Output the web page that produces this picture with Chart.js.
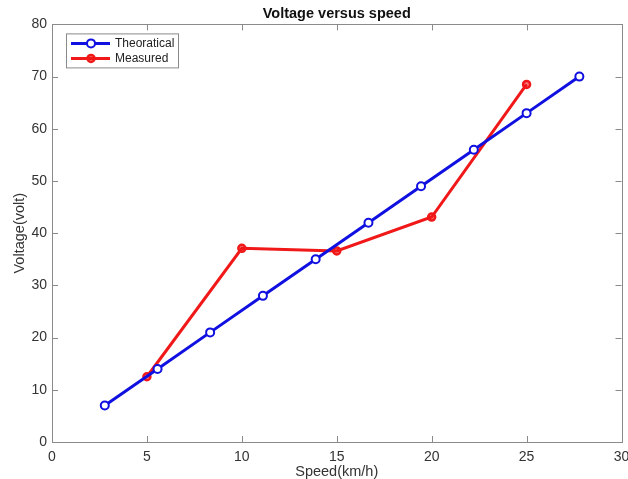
<!DOCTYPE html>
<html>
<head>
<meta charset="utf-8">
<script src="https://cdn.jsdelivr.net/npm/chart.js@4.4.0/dist/chart.umd.min.js"></script>
<style>
  html, body { margin: 0; padding: 0; background: #fff; }
  #wrap { width: 628px; height: 479px; }
</style>
</head>
<body>
<div id="wrap"><canvas id="voltChart"></canvas></div>
<script>
// data
var speedTheory   = [2.78, 5.56, 8.33, 11.11, 13.89, 16.67, 19.44, 22.22, 25.0, 27.78];
var voltTheory    = [7, 14, 21, 28, 35, 42, 49, 56, 63, 70];
var speedMeasured = [5, 10, 15, 20, 25];
var voltMeasured  = [12.5, 37.1, 36.6, 43.1, 68.5];
var xTicks = [0, 5, 10, 15, 20, 25, 30];
var yTicks = [0, 10, 20, 30, 40, 50, 60, 70, 80];

function toPoints(xs, ys) {
    return xs.map(function (x, i) { return {x: x, y: ys[i]}; });
}

var FONT = "'Liberation Sans', Arial, sans-serif";

// matlab style box with inward ticks on all four sides
var axesBox = {
    id: 'axesBox',
    beforeDatasetsDraw: function (chart) {
        var ctx = chart.ctx, a = chart.chartArea;
        var xs = chart.scales.x, ys = chart.scales.y;
        ctx.save();
        ctx.strokeStyle = '#8a8a8a';
        ctx.lineWidth = 1;
        ctx.strokeRect(Math.round(a.left) + 0.5, Math.round(a.top) + 0.5,
                       Math.round(a.right - a.left), Math.round(a.bottom - a.top));
        ctx.beginPath();
        xTicks.forEach(function (v) {
            var px = Math.round(xs.getPixelForValue(v)) + 0.5;
            ctx.moveTo(px, a.bottom); ctx.lineTo(px, a.bottom - 6);
            ctx.moveTo(px, a.top); ctx.lineTo(px, a.top + 6);
        });
        yTicks.forEach(function (v) {
            var py = Math.round(ys.getPixelForValue(v)) + 0.5;
            ctx.moveTo(a.left, py); ctx.lineTo(a.left + 6, py);
            ctx.moveTo(a.right, py); ctx.lineTo(a.right - 6, py);
        });
        ctx.stroke();
        ctx.restore();
    },
    afterDraw: function (chart) {
        // legend box in upper left corner of the axes
        var ctx = chart.ctx, a = chart.chartArea;
        var bx = a.left + 14, by = a.top + 9, bw = 112, bh = 34;
        ctx.save();
        ctx.fillStyle = '#fff';
        ctx.fillRect(bx, by, bw, bh);
        ctx.strokeStyle = '#8a8a8a';
        ctx.lineWidth = 1;
        ctx.strokeRect(bx + 0.5, by + 0.5, bw, bh);
        chart.data.datasets.forEach(function (ds, i) {
            var cy = by + 10 + i * 15;
            ctx.strokeStyle = ds.borderColor;
            ctx.lineWidth = 3;
            ctx.beginPath();
            ctx.moveTo(bx + 5, cy); ctx.lineTo(bx + 44, cy);
            ctx.stroke();
            ctx.fillStyle = ds.pointBackgroundColor;
            ctx.lineWidth = ds.pointBorderWidth;
            ctx.beginPath();
            ctx.arc(bx + 25, cy, ds.pointRadius, 0, Math.PI * 2);
            ctx.fill();
            ctx.stroke();
            ctx.fillStyle = '#222';
            ctx.font = '12px ' + FONT;
            ctx.textBaseline = 'middle';
            ctx.fillText(ds.label, bx + 49, cy);
        });
        ctx.restore();
    }
};

new Chart(document.getElementById('voltChart').getContext('2d'), {
    type: 'scatter',
    data: {
        datasets: [{
            label: 'Theoratical',
            data: toPoints(speedTheory, voltTheory),
            showLine: true,
            borderColor: '#1010e0',
            borderWidth: 3,
            pointRadius: 4,
            pointBorderWidth: 2,
            pointBackgroundColor: '#ffffff',
            pointBorderColor: '#1010e0'
        }, {
            label: 'Measured',
            data: toPoints(speedMeasured, voltMeasured),
            showLine: true,
            borderColor: '#f01818',
            borderWidth: 3,
            pointRadius: 3.5,
            pointBorderWidth: 2.5,
            pointBackgroundColor: 'rgba(240,24,24,0.55)',
            pointBorderColor: '#f01818'
        }]
    },
    options: {
        responsive: true,
        maintainAspectRatio: false,
        animation: false,
        layout: { padding: 0 },
        plugins: {
            legend: { display: false },
            tooltip: { enabled: false },
            title: {
                display: true,
                fullSize: false,   // centre over the axes, like matlab
                text: 'Voltage versus speed',
                color: '#111',
                font: { family: FONT, size: 14.5, weight: 'bold' },
                padding: { top: 5, bottom: 2 }
            }
        },
        scales: {
            x: {
                type: 'linear',
                min: 0, max: 30,
                grid: { display: false, drawTicks: false },
                border: { display: false },
                ticks: { stepSize: 5, color: '#333', padding: 7, font: { family: FONT, size: 14 } },
                title: { display: true, text: 'Speed(km/h)', color: '#333', padding: { top: 0, bottom: -2 },
                         font: { family: FONT, size: 14.5 } },
                afterFit: function (s) { s.paddingRight = 0; s.height = 37; }
            },
            y: {
                min: 0, max: 80,
                grid: { display: false, drawTicks: false },
                border: { display: false },
                ticks: { stepSize: 10, color: '#333', padding: 5, font: { family: FONT, size: 14 } },
                title: { display: true, text: 'Voltage(volt)', color: '#333', padding: { top: 11, bottom: 0 },
                         font: { family: FONT, size: 14.5 } },
                afterFit: function (s) { s.width = 52; }
            }
        }
    },
    plugins: [axesBox]
});
</script>
</body>
</html>
